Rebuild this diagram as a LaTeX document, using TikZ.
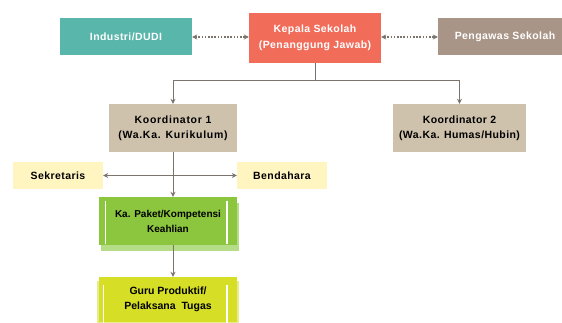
\documentclass[tikz,border=0pt]{standalone}
\usepackage{fontspec}
\setmainfont{Liberation Sans}
\newfontfamily\lblfont[LetterSpace=4]{Liberation Sans}
\newfontfamily\widefont[LetterSpace=7]{Liberation Sans}
\usetikzlibrary{arrows.meta}
\definecolor{teal1}{HTML}{59B6AB}
\definecolor{coral1}{HTML}{F26C5A}
\definecolor{taupe1}{HTML}{A89588}
\definecolor{koord}{HTML}{CFC2AD}
\definecolor{cream}{HTML}{FFF5C1}
\definecolor{green1}{HTML}{8CC63E}
\definecolor{green2}{HTML}{B5DC86}
\definecolor{yel1}{HTML}{D6DE25}
\definecolor{yel2}{HTML}{E8EC90}
\definecolor{linec}{HTML}{7A746C}
\tikzset{
  box/.style={inner sep=0pt, align=center, font=\lblfont\bfseries\fontsize{10.5}{15}\selectfont},
  whitetxt/.style={text=white, font=\lblfont\bfseries\fontsize{10.5}{15.5}\selectfont},
  conn/.style={draw=linec, line width=1pt},
  tip/.style={-{Stealth[length=5pt,width=5pt]}},
  dots/.style={draw=linec, line width=1.2pt, dash pattern=on 1.6pt off 1.6pt, {Stealth[length=5pt,width=5pt]}-{Stealth[length=5pt,width=5pt]}}
}
\begin{document}
\begin{tikzpicture}[x=1pt,y=-1pt]
\useasboundingbox (0,0) rectangle (562,323);
\fill[white] (0,0) rectangle (562,323);
% top row
\node[box, whitetxt, fill=teal1, minimum width=132pt, minimum height=37pt] (ind) at (126,37) {Industri/DUDI};
\node[box, whitetxt, fill=coral1, minimum width=132pt, minimum height=50pt] (kep) at (315,38) {Kepala Sekolah\\(Penanggung Jawab)};
\node[box, whitetxt, fill=taupe1, minimum width=134pt, minimum height=37pt] (pen) at (505,37) {Pengawas Sekolah};
\draw[dots] (ind.east) -- (kep.west |- ind.east);
\draw[dots] (kep.east |- pen.west) -- (pen.west);
% koordinator
\node[box, fill=koord, minimum width=128pt, minimum height=48pt, font=\widefont\bfseries\fontsize{10.5}{15}\selectfont] (k1) at (173,128) {Koordinator 1\\(Wa.Ka. Kurikulum)};
\node[box, fill=koord, minimum width=133pt, minimum height=48pt] (k2) at (459.5,128) {Koordinator 2\\(Wa.Ka. Humas/Hubin)};
\coordinate (j) at (315,80.5);
\draw[conn] (kep.south) -- (j);
\draw[conn, tip] (j) -| (k1.north);
\draw[conn, tip] (j) -| (k2.north);
% sekretaris / bendahara
\node[box, fill=cream, minimum width=90pt, minimum height=27pt] (sek) at (58,175.5) {Sekretaris};
\node[box, fill=cream, minimum width=90pt, minimum height=27pt] (ben) at (282,175.5) {Bendahara};
% green
\fill[green2] (101,203) rectangle (239,251);
\node[box, fill=green1, minimum width=138pt, minimum height=48pt, font=\bfseries\fontsize{10}{15}\selectfont] (grn) at (168,221) {Ka. Paket/Kompetensi\\Keahlian};
\draw[white, line width=1.2pt] (105.5,201) -- (105.5,244);
\draw[white, line width=1.2pt] (227,201) -- (227,244);
% yellow
\fill[yel2] (97,281) rectangle (239,323);
\node[box, fill=yel1, minimum width=138pt, minimum height=45pt, font=\bfseries\fontsize{10.5}{15}\selectfont] (gur) at (168,299.5) {Guru Produktif/\\Pelaksana \ Tugas};
\draw[white, line width=1.2pt] (103.5,285) -- (103.5,323);
\draw[white, line width=1.2pt] (227,285) -- (227,323);
% connectors
\draw[conn, {Stealth[length=5pt,width=5pt]}-{Stealth[length=5pt,width=5pt]}] (sek.east) -- (ben.west);
\draw[conn, tip] (k1.south) -- (k1.south |- grn.north);
\draw[conn, tip] (k1.south |- grn.south) -- (k1.south |- gur.north);
\end{tikzpicture}
\end{document}
